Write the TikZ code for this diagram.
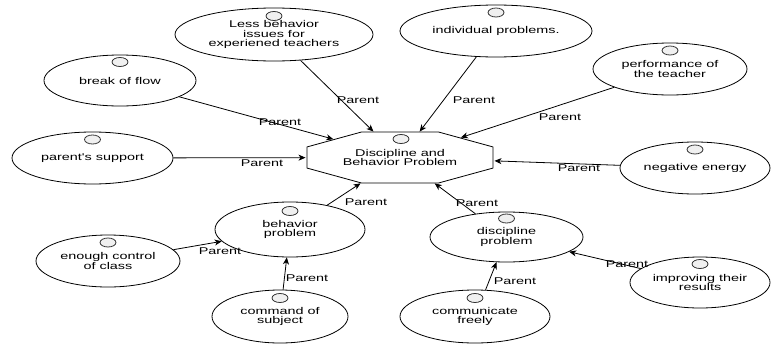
\documentclass[tikz,border=0pt]{standalone}
\usepackage{fontspec}
\usetikzlibrary{shapes.geometric,arrows.meta}
\newfontfamily\diafont[FakeStretch=1.47]{Liberation Sans}
\newcommand\diasize{\diafont\fontsize{9.8}{9.3}\selectfont}

\tikzset{
  uc/.style={ellipse, draw, line width=0.8pt, inner sep=0pt, align=center, font=\diasize},
  ico/.style={ellipse, draw=black!80, fill=gray!12, line width=0.8pt,
              minimum width=16pt, minimum height=9pt, inner sep=0pt},
  % a regular octagon 51pt high, stretched to 186pt wide by the enclosing scope
  octa/.style={regular polygon, regular polygon sides=8, draw, line width=0.8pt,
               inner sep=0pt, minimum size=55.2pt, transform shape},
  txt/.style={align=center, font=\diasize, inner sep=0pt},
  rel/.style={-{Stealth[length=7pt,width=6pt,inset=2pt]}, line width=0.8pt},
  lbl/.style={font=\diasize, inner sep=0pt}
}

\begin{document}
\begin{tikzpicture}[x=1pt,y=-1pt]
\useasboundingbox (0,0) rectangle (771,343);

% central goal
\begin{scope}[shift={(400,157.5)}, xscale=3.647]
  \node[octa] (dbp) at (0,0) {};
\end{scope}
\node[txt] (dbp-t) at (400,157.5) {Discipline and\\Behavior Problem};
\node[ico] (i0) at (401,139) {};

% use cases
\node[uc, minimum width=198pt, minimum height=53pt] (less) at (274,34.5)
  {Less behavior\\issues for\\experiened teachers};
\node[uc, minimum width=192pt, minimum height=52pt] (indiv) at (496,31)
  {individual problems.};
\node[uc, minimum width=154pt, minimum height=52pt] (perf) at (670,69)
  {performance of\\the teacher};
\node[uc, minimum width=152pt, minimum height=51pt] (brk) at (120,80.5)
  {break of flow};
\node[uc, minimum width=161pt, minimum height=52pt] (pars) at (92.5,158)
  {parent's support};
\node[uc, minimum width=150pt, minimum height=52pt] (neg) at (695,168)
  {negative energy};
\node[uc, minimum width=150pt, minimum height=55pt] (beh) at (290,229.5)
  {behavior\\problem};
\node[uc, minimum width=153pt, minimum height=50pt] (disc) at (506.5,237)
  {discipline\\problem};
\node[uc, minimum width=144pt, minimum height=52pt] (enough) at (108,261)
  {enough control\\of class};
\node[uc, minimum width=136pt, minimum height=53pt] (cmd) at (280,316.5)
  {command of\\subject};
\node[uc, minimum width=150pt, minimum height=53pt] (comm) at (475,316.5)
  {communicate\\freely};
\node[uc, minimum width=140pt, minimum height=51pt] (impr) at (700,282.5)
  {improving their\\results};

% icons above the texts
\foreach \n in {less,indiv,perf,brk,pars,neg,beh,disc,enough,cmd,comm,impr}
  \node[ico] (i-\n) at ([yshift=18.5pt]\n.center) {};

% parent relations
\draw[rel] (less)   -- (dbp);
\draw[rel] (indiv)  -- (dbp);
\draw[rel] (perf)   -- (dbp);
\draw[rel] (brk)    -- (dbp);
\draw[rel] (pars)   -- (dbp);
\draw[rel] (neg)    -- (dbp);
\draw[rel] (beh)    -- (dbp);
\draw[rel] (disc)   -- (dbp);
\draw[rel] (enough) -- (beh);
\draw[rel] (cmd)    -- (beh);
\draw[rel] (comm)   -- (disc);
\draw[rel] (impr)   -- (disc);

% relation labels
\node[lbl] (l-less)   at (358,100) {Parent};
\node[lbl] (l-indiv)  at (474,100) {Parent};
\node[lbl] (l-perf)   at (560,117) {Parent};
\node[lbl] (l-brk)    at (280,122) {Parent};
\node[lbl] (l-pars)   at (262,163) {Parent};
\node[lbl] (l-neg)    at (579,168) {Parent};
\node[lbl] (l-beh)    at (366,202) {Parent};
\node[lbl] (l-disc)   at (477,203) {Parent};
\node[lbl] (l-enough) at (220,251) {Parent};
\node[lbl] (l-cmd)    at (307,278) {Parent};
\node[lbl] (l-comm)   at (515,281) {Parent};
\node[lbl] (l-impr)   at (627,264) {Parent};
\end{tikzpicture}
\end{document}
